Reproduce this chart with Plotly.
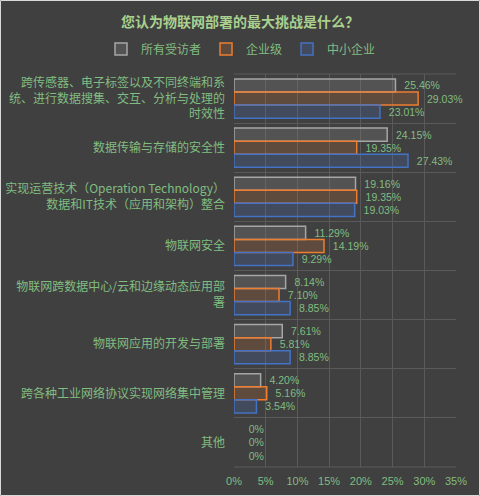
import plotly.graph_objects as go

categories = [
    "跨传感器、电子标签以及不同终端和系<br>统、进行数据搜集、交互、分析与处理的<br>时效性",
    "数据传输与存储的安全性",
    "实现运营技术（Operation Technology）<br>数据和IT技术（应用和架构）整合",
    "物联网安全",
    "物联网跨数据中心/云和边缘动态应用部<br>署",
    "物联网应用的开发与部署",
    "跨各种工业网络协议实现网络集中管理",
    "其他",
]
all_resp = [25.46, 24.15, 19.16, 11.29, 8.14, 7.61, 4.20, 0]
enterprise = [29.03, 19.35, 19.35, 14.19, 7.10, 5.81, 5.16, 0]
smb = [23.01, 27.43, 19.03, 9.29, 8.85, 8.85, 3.54, 0]
series_names = ["所有受访者", "企业级", "中小企业"]
x_ticks = [0, 5, 10, 15, 20, 25, 30, 35]

FONT = "Noto Sans CJK SC"
NUM_FONT = "Liberation Sans"
GREEN = "#80bd80"
line_colors = ["#a6a6a6", "#ed7d31", "#4472c4"]
fill_colors = ["rgba(120,120,120,0.35)", "rgba(237,125,49,0.18)", "rgba(68,114,196,0.22)"]

W, H = 480, 496
ML, MR, MT, MB = 234, 24, 74, 29
PW, PH = W - ML - MR, H - MT - MB


def fmt(v):
    return f"  {v:.2f}%" if v else "    0%"


fig = go.Figure()
for name, vals, lc, fc in zip(series_names, [all_resp, enterprise, smb], line_colors, fill_colors):
    fig.add_trace(go.Bar(
        y=categories, x=vals, name=name, orientation="h",
        marker=dict(color=fc, line=dict(color=lc, width=[1.5 if v else 0 for v in vals])),
        text=[fmt(v) for v in vals], textposition="outside",
        constraintext="none",
        textfont=dict(color=GREEN, size=10.5, family=NUM_FONT),
        cliponaxis=False,
    ))

fig.update_layout(
    width=W, height=H,
    paper_bgcolor="#404040", plot_bgcolor="#404040",
    margin=dict(l=ML, r=MR, t=MT, b=MB, autoexpand=False),
    barmode="group", bargap=0.2, bargroupgap=0.0,
    font=dict(family=FONT, color=GREEN, size=12),
    title=dict(text="<b>您认为物联网部署的最大挑战是什么？</b>", x=0.5, xanchor="center",
               y=1 - 22 / H, yanchor="middle", font=dict(size=14, color="#a9d08e", family=FONT)),
    legend=dict(orientation="h", x=(101 - ML) / PW, xanchor="left",
                y=1 + (MT - 49) / PH, yanchor="middle",
                font=dict(size=12, color=GREEN, family=FONT),
                traceorder="normal", itemwidth=30),
    showlegend=True,
)
fig.update_xaxes(range=[0, 35], tickvals=x_ticks, ticktext=[f"{t}%" for t in x_ticks],
                 showgrid=True, gridcolor="#5a5a5a", gridwidth=1, zeroline=False,
                 tickfont=dict(size=11, color=GREEN, family=NUM_FONT), ticks="",
                 ticklabelstandoff=6)
fig.update_yaxes(autorange="reversed", tickson="boundaries", showgrid=True,
                 gridcolor="#5a5a5a", gridwidth=1, ticks="", ticklabelstandoff=8,
                 tickfont=dict(size=12, color=GREEN), showline=False)
fig.add_shape(type="line", xref="paper", yref="paper", x0=0, x1=1, y0=0, y1=0,
              line=dict(color="#5a5a5a", width=1))
fig.add_shape(type="line", xref="paper", yref="paper", x0=0, x1=1, y0=1, y1=1,
              line=dict(color="#5a5a5a", width=1))
# thin light frame round the whole chart
fig.add_shape(type="rect", xref="paper", yref="paper",
              x0=-(ML - 0.5) / PW, x1=1 + (MR - 0.5) / PW,
              y0=-(MB - 0.5) / PH, y1=1 + (MT - 0.5) / PH,
              line=dict(color="#d9d9d9", width=1))

fig.write_html("out.html", config={"displayModeBar": False},
               post_script="document.body.style.margin='0';document.body.style.padding='0';")
